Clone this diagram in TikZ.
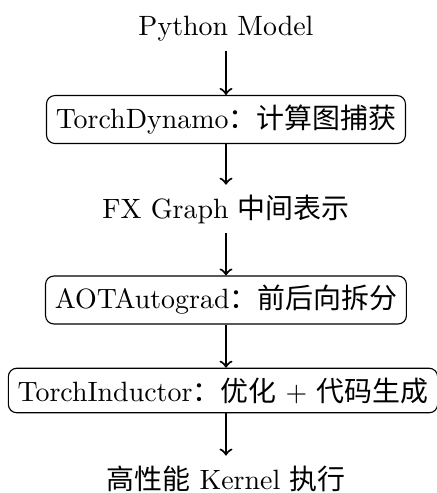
\documentclass[tikz,border=0pt]{standalone}
\usepackage{fontspec}
\newfontfamily\cjk{Noto Sans CJK SC}
\begin{document}
\begin{tikzpicture}[x=0.358pt,y=-0.358pt,
  box/.style={draw,rounded corners=3pt,line width=0.4pt,inner sep=3.33pt},
  txt/.style={inner sep=3.33pt},
  flow/.style={->,line width=0.75pt}]
\useasboundingbox (0,0) rectangle (437,493);
\node[txt,anchor=base] (pm) at (226,35) {Python Model};
\node[box] (b1) at (226,119.5) {TorchDynamo{\cjk ：计算图捕获}};
\node[txt,anchor=base] (fx) at (226,218) {FX Graph {\cjk 中间表示}};
\node[box] (b2) at (226,300) {AOTAutograd{\cjk ：前后向拆分}};
\node[box] (b3) at (223,390.5) {TorchInductor{\cjk ：优化} $+$ {\cjk 代码生成}};
\node[txt,anchor=base] (out) at (226,489) {{\cjk 高性能} Kernel {\cjk 执行}};
\draw[flow] (pm.south -| b1.north) -- (b1.north);
\draw[flow] (b1.south) -- (b1.south |- fx.north);
\draw[flow] (fx.south -| b2.north) -- (b2.north);
\draw[flow] (b2.south) -- (b2.south |- b3.north);
\draw[flow] (b2.south |- b3.south) -- (b2.south |- out.north);
\end{tikzpicture}
\end{document}
